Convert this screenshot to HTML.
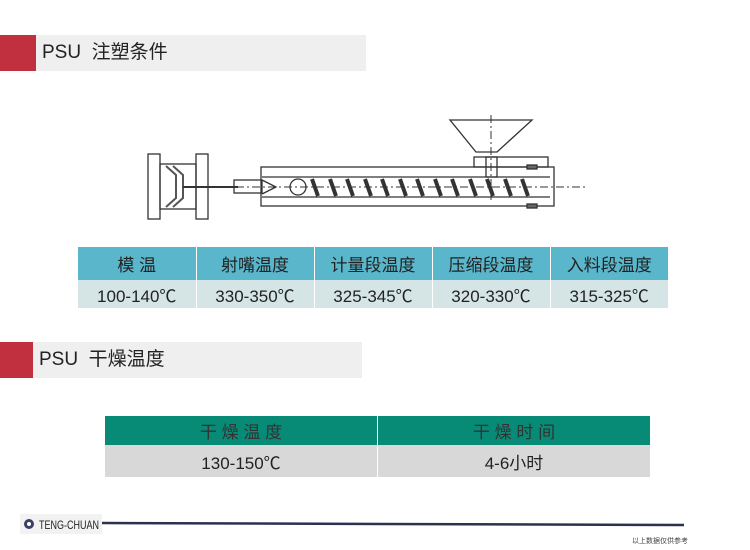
<!DOCTYPE html>
<html><head><meta charset="utf-8"><style>
body{margin:0;width:750px;height:550px;background:#fff;position:relative;overflow:hidden;font-family:"Liberation Sans Narrow","Liberation Sans","Noto Sans CJK SC",sans-serif}
.abs{position:absolute}
.red{background:#c1303f}
.bar{background:#efefef;color:#222;font-size:19px;line-height:36px;padding-left:6px;box-sizing:border-box}
table{border-collapse:collapse;position:absolute;table-layout:fixed}
td{text-align:center;padding:0;font-size:17px;color:#222}
</style></head><body>
<div class="abs red" style="left:0;top:35px;width:36px;height:36px"></div>
<div class="abs bar" style="left:36px;top:35px;width:330px;height:36px">PSU&nbsp; 注塑条件</div>
<div class="abs red" style="left:0;top:342px;width:33px;height:36px"></div>
<div class="abs bar" style="left:33px;top:342px;width:329px;height:36px">PSU&nbsp; 干燥温度</div>

<svg class="abs" style="left:0;top:0" width="750" height="550">
<g fill="none" stroke="#333" stroke-width="1.3">
<rect x="148" y="154" width="12" height="65" fill="#fff"/>
<rect x="196" y="154" width="12" height="65" fill="#fff"/>
<rect x="160" y="164" width="36" height="45"/>
<path d="M166 166 L176 175 L176 198 L166 207 M173 166 L183 175 L183 198 L173 207" stroke="#555" stroke-width="2"/>
<line x1="183" y1="187" x2="238" y2="187" stroke-width="2"/>
<rect x="261" y="167" width="293" height="39"/>
<rect x="234" y="180" width="28" height="13"/>
<rect x="474" y="157" width="74" height="10"/>
<rect x="486" y="157" width="11" height="20"/>
<path d="M450 120 L532 120 L497 152 L476 152 Z"/>
<line x1="262" y1="177" x2="550" y2="177"/>
<line x1="262" y1="197" x2="550" y2="197"/>
<path d="M262 180 L276 187 L262 194" />
<circle cx="298" cy="187" r="8"/>
<rect x="527" y="165" width="10" height="4" fill="#666"/>
<rect x="527" y="204" width="10" height="4" fill="#666"/>
<line x1="220" y1="187" x2="585" y2="187" stroke-dasharray="8 3 2 3" stroke-width="1"/>
<line x1="491" y1="115" x2="491" y2="200" stroke-dasharray="8 3 2 3" stroke-width="1"/>
</g>
<g stroke="#333" stroke-width="4">
<line x1="312" y1="179" x2="318" y2="196"/><line x1="330" y1="179" x2="336" y2="196"/><line x1="347" y1="179" x2="353" y2="196"/><line x1="365" y1="179" x2="371" y2="196"/><line x1="382" y1="179" x2="388" y2="196"/><line x1="400" y1="179" x2="406" y2="196"/><line x1="417" y1="179" x2="423" y2="196"/><line x1="435" y1="179" x2="441" y2="196"/><line x1="452" y1="179" x2="458" y2="196"/><line x1="470" y1="179" x2="476" y2="196"/><line x1="487" y1="179" x2="493" y2="196"/><line x1="505" y1="179" x2="511" y2="196"/><line x1="522" y1="179" x2="528" y2="196"/>
</g>
<rect x="20" y="514" width="82" height="20" fill="#f2f2f2"/>
<circle cx="29" cy="524" r="5" fill="#3a3f6a"/>
<circle cx="29" cy="524" r="2" fill="#fff"/>
<text x="39" y="529" font-family="Liberation Sans,sans-serif" font-size="12" fill="#222" textLength="60" lengthAdjust="spacingAndGlyphs">TENG-CHUAN</text>
<line x1="102" y1="523" x2="684" y2="525" stroke="#2c3150" stroke-width="2.5"/>
<text x="632" y="543" font-family="Liberation Sans,Noto Sans CJK SC,sans-serif" font-size="7" fill="#444">以上数据仅供参考</text>
</svg>

<table style="left:78px;top:247px;width:590px">
<tr style="height:33px;background:#5ab6cb"><td style="border-right:1px solid #fff">模 温</td><td style="border-right:1px solid #fff">射嘴温度</td><td style="border-right:1px solid #fff">计量段温度</td><td style="border-right:1px solid #fff">压缩段温度</td><td>入料段温度</td></tr>
<tr style="height:28px;background:#d5e5e5"><td style="border-right:1px solid #fff">100-140℃</td><td style="border-right:1px solid #fff">330-350℃</td><td style="border-right:1px solid #fff">325-345℃</td><td style="border-right:1px solid #fff">320-330℃</td><td>315-325℃</td></tr>
</table>

<table style="left:105px;top:416px;width:545px">
<tr style="height:29px;background:#078b77"><td style="border-right:1px solid #fff;color:#333">干 燥 温 度</td><td style="color:#333">干 燥 时 间</td></tr>
<tr style="height:32px;background:#d8d8d8"><td style="border-right:1px solid #fff">130-150℃</td><td>4-6小时</td></tr>
</table>
</body></html>
